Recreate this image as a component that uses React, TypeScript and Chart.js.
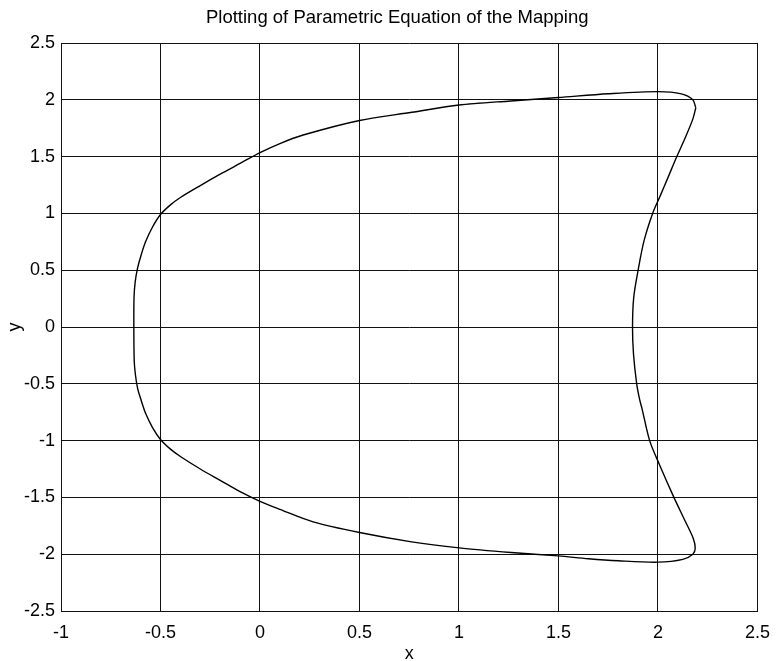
import React, { useEffect, useRef } from 'react';
import { Chart, registerables } from 'chart.js';

Chart.register(...registerables);

const chartTitle = 'Plotting of Parametric Equation of the Mapping';
const xAxisLabel = 'x';
const yAxisLabel = 'y';

const xTicks = [-1, -0.5, 0, 0.5, 1, 1.5, 2, 2.5];
const yTicks = [-2.5, -2, -1.5, -1, -0.5, 0, 0.5, 1, 1.5, 2, 2.5];

// Traced points of the closed parametric curve (x, y)
const curveX = [
  2.19, 2.175, 2.133, 2.092, 2.05, 2.01, 1.973, 1.93, 1.9, 1.878, 1.872, 1.877, 1.893, 1.908, 1.92,
  1.958, 2.007, 2.08, 2.137, 2.177, 2.187, 2.175, 2.125, 2.0, 1.8, 1.65, 1.5, 1.262, 1.0, 0.762,
  0.5, 0.267, 0.1, 0.0, -0.1, -0.2, -0.3, -0.4, -0.45, -0.5, -0.54, -0.575, -0.6, -0.615, -0.626,
  -0.632, -0.634, -0.633, -0.627, -0.615, -0.598, -0.575, -0.54, -0.5, -0.45, -0.4, -0.3, -0.2, -0.1, 0.0,
  0.1, 0.217, 0.5, 0.763, 1.0, 1.26, 1.5, 1.75, 2.0, 2.117, 2.175, 2.19,
];
const curveY = [
  1.93, 1.83, 1.65, 1.49, 1.315, 1.15, 1.0, 0.76, 0.5, 0.26, 0.0, -0.24, -0.5, -0.64, -0.72,
  -1.0, -1.21, -1.5, -1.71, -1.86, -1.95, -2.0, -2.045, -2.07, -2.058, -2.04, -2.015, -1.985, -1.944, -1.891,
  -1.809, -1.715, -1.605, -1.535, -1.45, -1.35, -1.25, -1.14, -1.075, -0.99, -0.885, -0.76, -0.63, -0.54, -0.42,
  -0.3, 0.0, 0.26, 0.4, 0.52, 0.63, 0.75, 0.88, 0.99, 1.075, 1.14, 1.245, 1.345, 1.44, 1.535,
  1.615, 1.69, 1.818, 1.89, 1.954, 1.99, 2.02, 2.053, 2.072, 2.052, 2.0, 1.93,
];

const FONT_FAMILY = '"Liberation Sans", Arial, Helvetica, sans-serif';
const GRID_COLOR = '#111';

const titlePlugin = {
  id: 'refTitle',
  afterDraw(chart: any) {
    const { ctx, chartArea } = chart;
    ctx.save();
    ctx.font = `18.5px ${FONT_FAMILY}`;
    ctx.fillStyle = '#000';
    ctx.textAlign = 'center';
    ctx.textBaseline = 'alphabetic';
    const cx = (chartArea.left + chartArea.right) / 2 - 12;
    ctx.fillText(chartTitle, cx, chartArea.top - 20);
    ctx.restore();
  },
};

export default function App() {
  const canvasRef = useRef<HTMLCanvasElement | null>(null);

  useEffect(() => {
    const canvas = canvasRef.current;
    if (!canvas) return;
    const points = curveX.map((x, i) => ({ x, y: curveY[i] }));
    const chart = new Chart(canvas, {
      type: 'scatter',
      data: {
        datasets: [
          {
            data: points,
            showLine: true,
            borderColor: '#000',
            borderWidth: 1.4,
            pointRadius: 0,
            tension: 0.3,
            fill: false,
          },
        ],
      },
      options: {
        animation: false,
        responsive: false,
        devicePixelRatio: 1,
        layout: { padding: { top: 43, right: 20, left: 0, bottom: 0 } },
        plugins: {
          legend: { display: false },
          tooltip: { enabled: false },
          title: { display: false },
        },
        scales: {
          x: {
            type: 'linear',
            min: xTicks[0],
            max: xTicks[xTicks.length - 1],
            afterBuildTicks: (scale: any) => {
              scale.ticks = xTicks.map((v) => ({ value: v }));
            },
            afterFit: (scale: any) => {
              scale.height = 50;
            },
            ticks: {
              color: '#000',
              padding: 11,
              maxRotation: 0,
              autoSkip: false,
              font: { family: FONT_FAMILY, size: 18 },
              callback: (v: any) => String(v),
            },
            grid: { color: GRID_COLOR, lineWidth: 1, drawTicks: false },
            border: { display: true, color: GRID_COLOR, width: 1 },
            title: {
              display: true,
              text: xAxisLabel,
              color: '#000',
              font: { family: FONT_FAMILY, size: 18, lineHeight: 1 },
              padding: { top: 0, bottom: -2 },
            },
          },
          y: {
            type: 'linear',
            min: yTicks[0],
            max: yTicks[yTicks.length - 1],
            afterBuildTicks: (scale: any) => {
              scale.ticks = yTicks.map((v) => ({ value: v }));
            },
            afterFit: (scale: any) => {
              scale.width = 61;
            },
            ticks: {
              color: '#000',
              padding: 6,
              autoSkip: false,
              font: { family: FONT_FAMILY, size: 18 },
              callback: (v: any) => String(v),
            },
            grid: { color: GRID_COLOR, lineWidth: 1, drawTicks: false },
            border: { display: true, color: GRID_COLOR, width: 1 },
            title: {
              display: true,
              text: yAxisLabel,
              color: '#000',
              font: { family: FONT_FAMILY, size: 18 },
              padding: { top: 4, bottom: 4 },
            },
          },
        },
      },
      plugins: [titlePlugin],
    });
    return () => chart.destroy();
  }, []);

  return (
    <div style={{ position: 'absolute', left: 0, top: 0, width: 781, height: 661, background: '#fff' }}>
      <canvas ref={canvasRef} width={781} height={661} style={{ width: 781, height: 661, display: 'block' }} />
    </div>
  );
}
